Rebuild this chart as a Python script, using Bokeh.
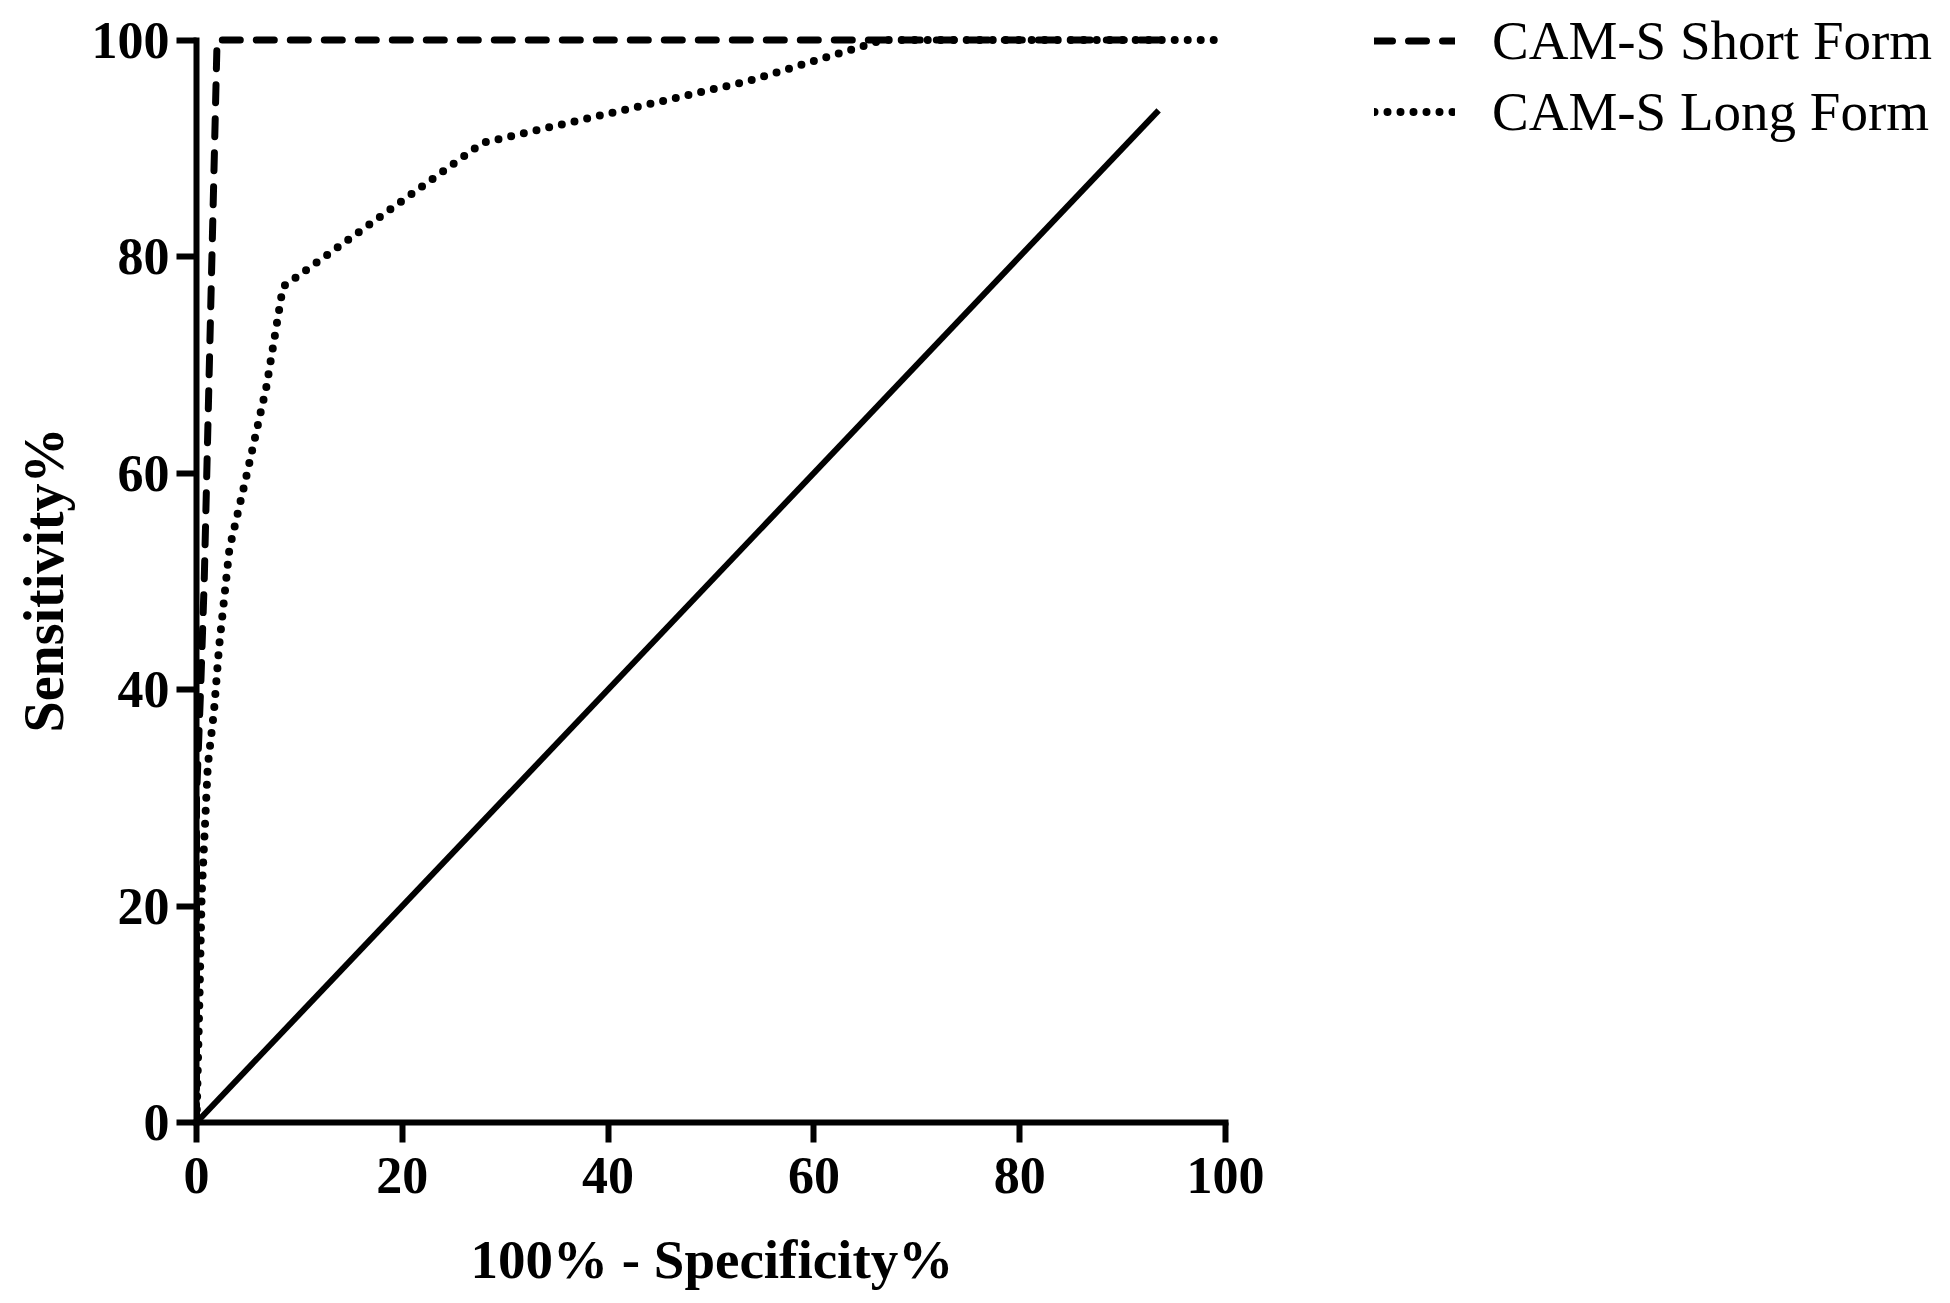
from bokeh.plotting import figure
from bokeh.models import Range1d, FixedTicker, Legend, LegendItem, Title, LinearAxis
from bokeh.embed import file_html
from bokeh.resources import INLINE

# ---- data ----
tick_values = [0, 20, 40, 60, 80, 100]
x_title = "100% - Specificity%"
y_title = "Sensitivity%"

# reference (chance) line
ref_fpr = [0, 93.5]
ref_sens = [0, 93.5]

# CAM-S Short Form ROC
short_fpr = [0, 0, 0.4, 0.75, 1.45, 2.0, 93.5]
short_sens = [0, 30, 40, 50, 78, 100, 100]

# CAM-S Long Form ROC
long_fpr = [0, 0.3, 0.5, 0.8, 1.1, 1.7, 2.2, 2.7, 3.2, 4.8, 6.8, 8.4, 27.8, 53.6, 66.7, 100]
long_sens = [0, 12, 21, 27, 33, 38, 44, 48.5, 53, 59.5, 68, 77.2, 90.5, 96.2, 100, 100]

FONT = "Liberation Serif"

# frame spans the whole area right of / above the axes; axes are bounded to 0..100
p = figure(width=1934, height=1300, output_backend="svg", toolbar_location=None,
           x_range=Range1d(0, 168.9), y_range=Range1d(0, 103.65),
           min_border_left=196, min_border_right=0, min_border_top=0, min_border_bottom=178)
p.grid.visible = False
p.outline_line_color = None
p.background_fill_color = "white"
p.border_fill_color = "white"

for ax in (p.xaxis[0], p.yaxis[0]):
    ax.bounds = (0, 100)
    ax.ticker = FixedTicker(ticks=tick_values)
    ax.axis_line_width = 6
    ax.axis_line_color = "black"
    ax.axis_line_cap = "square"
    ax.major_tick_line_width = 6
    ax.major_tick_line_color = "black"
    ax.major_tick_out = 20
    ax.major_tick_in = 0
    ax.minor_tick_out = 0
    ax.minor_tick_in = 0
    ax.major_label_text_font = FONT
    ax.major_label_text_font_style = "bold"
    ax.major_label_text_font_size = "52px"
    ax.major_label_text_color = "black"

p.xaxis.major_label_standoff = 15
p.yaxis.major_label_standoff = 7

# white, label-less spacer axis between the x tick labels and the x title
spacer = LinearAxis(ticker=FixedTicker(ticks=[150]), axis_line_color=None,
                    major_tick_line_color="white", major_tick_line_width=1,
                    minor_tick_line_color=None,
                    major_tick_out=33, major_tick_in=0, minor_tick_out=0, minor_tick_in=0,
                    major_label_standoff=0, major_label_overrides={150: ""},
                    major_label_text_font_size="0px")
p.add_layout(spacer, "below")

# axis titles, positioned against the 0..100 axis extent
p.add_layout(Title(text=x_title, align="left", offset=274, vertical_align="top", standoff=0,
                   text_font=FONT, text_font_style="bold", text_font_size="55px",
                   text_color="black"), "below")
p.add_layout(Title(text=y_title, align="left", offset=390, vertical_align="top", standoff=24,
                   text_font=FONT, text_font_style="bold", text_font_size="56px",
                   text_color="black"), "left")

p.line(ref_fpr, ref_sens, line_color="black", line_width=6)
r_short = p.line(short_fpr, short_sens, line_color="black", line_width=7,
                 line_dash="18 16", line_cap="round")
r_long = p.line(long_fpr, long_sens, line_color="black", line_width=8,
                line_dash="0 13", line_cap="round")

legend = Legend(items=[LegendItem(label="CAM-S Short Form", renderers=[r_short]),
                       LegendItem(label="CAM-S Long Form", renderers=[r_long])],
                location=(1178, 979), padding=0, margin=0, spacing=8,
                glyph_width=81, glyph_height=63, label_height=63, label_standoff=37,
                label_text_font=FONT, label_text_font_size="55px", label_text_color="black",
                border_line_color=None, background_fill_alpha=0)
p.add_layout(legend)

open("out.html", "w").write(file_html(p, INLINE))
